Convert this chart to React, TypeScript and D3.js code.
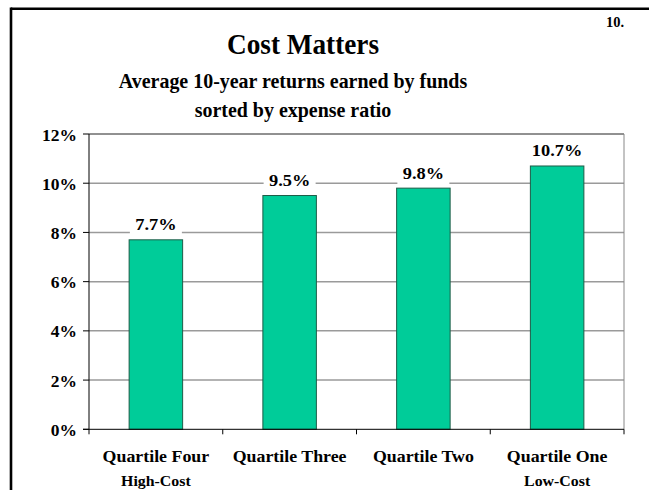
import React from "react";
import * as d3 from "d3";

const categories = ["Quartile Four", "Quartile Three", "Quartile Two", "Quartile One"];
const subLabels = ["High-Cost", "", "", "Low-Cost"];
const values = [7.7, 9.5, 9.8, 10.7];
const valueLabels = ["7.7%", "9.5%", "9.8%", "10.7%"];
const yTicks = [0, 2, 4, 6, 8, 10, 12];
const yTickLabels = ["0%", "2%", "4%", "6%", "8%", "10%", "12%"];

const W = 649;
const H = 490;
const FONT = "'Liberation Serif', 'Times New Roman', serif";

function SText(props: { x: number; y: number; size: number; sx?: number; anchor?: string; children: React.ReactNode }) {
  const { x, y, size, sx = 1, anchor = "middle", children } = props;
  return (
    <text
      transform={`translate(${x},${y}) scale(${sx},1)`}
      textAnchor={anchor}
      fontFamily={FONT}
      fontWeight="bold"
      fontSize={size}
      fill="#000"
    >
      {children}
    </text>
  );
}

export default function App() {
  const left = 89;
  const right = 624;
  const top = 134;
  const bottom = 429.3;

  const x = d3.scaleBand<string>().domain(categories).range([left, right]).padding(0);
  const y = d3.scaleLinear().domain([0, 12]).range([bottom, top]);
  const bw = x.bandwidth() * 0.4;

  return (
    <svg width={W} height={H} style={{ position: "absolute", left: 0, top: 0, background: "#fff" }}>
      <rect x={0} y={0} width={W} height={H} fill="#fff" />
      {/* frame */}
      <line x1={11} y1={8.7} x2={W + 5} y2={8.7} stroke="#000" strokeWidth={2.6} />
      <line x1={11} y1={7.4} x2={11} y2={H + 5} stroke="#000" strokeWidth={2.6} />

      {/* titles */}
      <SText x={303} y={54} size={29} sx={0.94}>Cost Matters</SText>
      <SText x={293} y={88} size={21} sx={0.95}>Average 10-year returns earned by funds</SText>
      <SText x={293} y={117} size={21} sx={0.95}>sorted by expense ratio</SText>
      <SText x={624} y={27} size={14.5} anchor="end">10.</SText>

      {/* gridlines */}
      {yTicks.filter((t) => t > 0 && t < 12).map((t) => (
        <line key={"g" + t} x1={left} x2={right} y1={y(t)} y2={y(t)} stroke="#9a9a9a" strokeWidth={1.5} />
      ))}
      {/* plot border top & right */}
      <line x1={left} x2={right} y1={y(12)} y2={y(12)} stroke="#222" strokeWidth={1} />
      <line x1={right} x2={right} y1={y(12)} y2={bottom} stroke="#888" strokeWidth={1} />

      {/* bars */}
      {categories.map((c, i) => {
        const cx = (x(c) as number) + x.bandwidth() / 2;
        return (
          <rect
            key={"b" + c}
            x={cx - bw / 2}
            y={y(values[i])}
            width={bw}
            height={bottom - y(values[i])}
            fill="#00CC99"
            stroke="#1d5c47"
            strokeWidth={1}
          />
        );
      })}

      {/* value labels */}
      {categories.map((c, i) => {
        const cx = (x(c) as number) + x.bandwidth() / 2;
        const by = y(values[i]) - 9.5;
        const bgw = valueLabels[i].length * 10.5 + 10;
        return (
          <g key={"v" + c}>
            <rect x={cx - bgw / 2} y={by - 15} width={bgw} height={21} fill="#fff" />
            <SText x={cx} y={by} size={17.5} sx={1.05}>{valueLabels[i]}</SText>
          </g>
        );
      })}

      {/* y axis */}
      <line x1={left} x2={left} y1={y(12)} y2={bottom} stroke="#000" strokeWidth={1} />
      {yTicks.map((t, i) => (
        <g key={"yt" + t}>
          <line x1={left - 6} x2={left} y1={y(t)} y2={y(t)} stroke="#000" strokeWidth={1} />
          <SText x={77} y={y(t) + 6.5} size={16.5} sx={1.06} anchor="end">{yTickLabels[i]}</SText>
        </g>
      ))}

      {/* x axis */}
      <line x1={left - 6} x2={right} y1={bottom} y2={bottom} stroke="#000" strokeWidth={1} />
      {[...categories.map((c) => x(c) as number), right].map((px, i) => (
        <line key={"xt" + i} x1={px} x2={px} y1={bottom} y2={bottom + 5} stroke="#000" strokeWidth={1} />
      ))}
      {categories.map((c, i) => {
        const cx = (x(c) as number) + x.bandwidth() / 2;
        return (
          <g key={"xl" + c}>
            <SText x={cx} y={462} size={17} sx={1.05}>{c}</SText>
            {subLabels[i] ? <SText x={cx} y={486} size={15} sx={1.06}>{subLabels[i]}</SText> : null}
          </g>
        );
      })}
    </svg>
  );
}
